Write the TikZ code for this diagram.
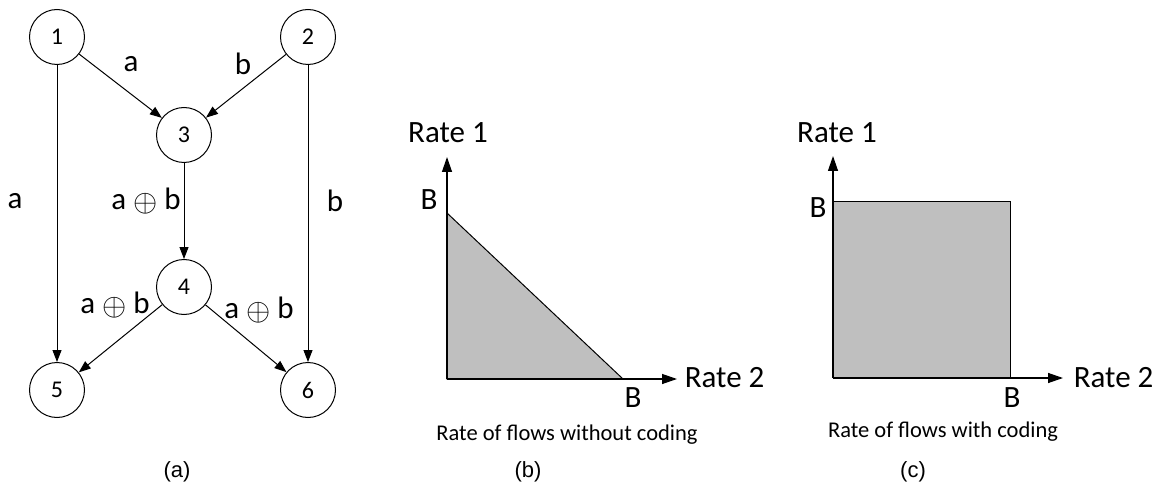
\documentclass[tikz,border=0pt]{standalone}
\usepackage{fontspec}
\setmainfont{Carlito}
\newfontfamily\capfont{Liberation Sans}
\usetikzlibrary{arrows.meta}
\newcommand{\xorsign}{\raisebox{-0.08em}{\scalebox{1.25}{$\oplus$}}}

\begin{document}
\begin{tikzpicture}[x=1pt,y=-1pt,line width=1pt,
  vertex/.style={circle,draw,minimum size=55pt,inner sep=0pt,font=\fontsize{24}{26}\selectfont},
  flow/.style={-{Triangle[length=12pt,width=9pt]}},
  lab/.style={font=\fontsize{31}{34}\selectfont},
  axis/.style={line width=1.3pt,-{Triangle[length=15pt,width=10pt]}},
  tick/.style={font=\fontsize{31}{34}\selectfont},
  note/.style={font=\fontsize{22.5}{26}\selectfont},
  caption/.style={font=\capfont\fontsize{22}{26}\selectfont}]
  \useasboundingbox (0,0) rectangle (1159,489);
  % (a) butterfly network
  \node[vertex] (n1) at (57,37) {1};  \node[vertex] (n2) at (308,37) {2};
  \node[vertex] (n3) at (184,135) {3}; \node[vertex] (n4) at (184,287) {4};
  \node[vertex] (n5) at (57,390) {5}; \node[vertex] (n6) at (308,390) {6};
  \draw[flow] (n1) -- (n3); \draw[flow] (n2) -- (n3);
  \draw[flow] (n3) -- (n4);
  \draw[flow] (n1) -- (n5); \draw[flow] (n2) -- (n6);
  \draw[flow] (n4) -- (n5); \draw[flow] (n4) -- (n6);
  \node[lab] (l13) at (131,64) {a}; \node[lab] (l23) at (243,64) {b};
  \node[lab] (l15) at (15,201) {a}; \node[lab] (l26) at (335,201) {b};
  \node[lab] (l34) at (146,201) {a \xorsign{} b};
  \node[lab] (l45) at (115,305) {a \xorsign{} b}; \node[lab] (l46) at (259,310) {a \xorsign{} b};
  \node[caption] (capa) at (177,472) {(a)};
  % (b) without coding
  \filldraw[fill=black!25] (447,379) -- (447,213) -- (623,379) -- cycle;
  \draw[axis] (447,379) -- (447,157);
  \draw[axis] (447,379) -- (677,379);
  \node[tick] (b1y) at (429,200) {B}; \node[tick] (b1x) at (633,398) {B};
  \node[tick] (r1b) at (448,133) {Rate 1};
  \node[tick,anchor=west] (r2b) at (681,378) {Rate 2};
  \node[note] (nb) at (567,435) {Rate of flows without coding};
  \node[caption] (capb) at (528,472) {(b)};
  % (c) with coding
  \filldraw[fill=black!25] (833,378) rectangle (1010,202);
  \draw[axis] (833,378) -- (833,156);
  \draw[axis] (833,378) -- (1063,378);
  \node[tick] (b2y) at (818,208) {B}; \node[tick] (b2x) at (1012,398) {B};
  \node[tick] (r1c) at (837,133) {Rate 1};
  \node[tick,anchor=west] (r2c) at (1070,378) {Rate 2};
  \node[note] (nc) at (943,432) {Rate of flows with coding};
  \node[caption] (capc) at (913,472) {(c)};
\end{tikzpicture}
\end{document}
